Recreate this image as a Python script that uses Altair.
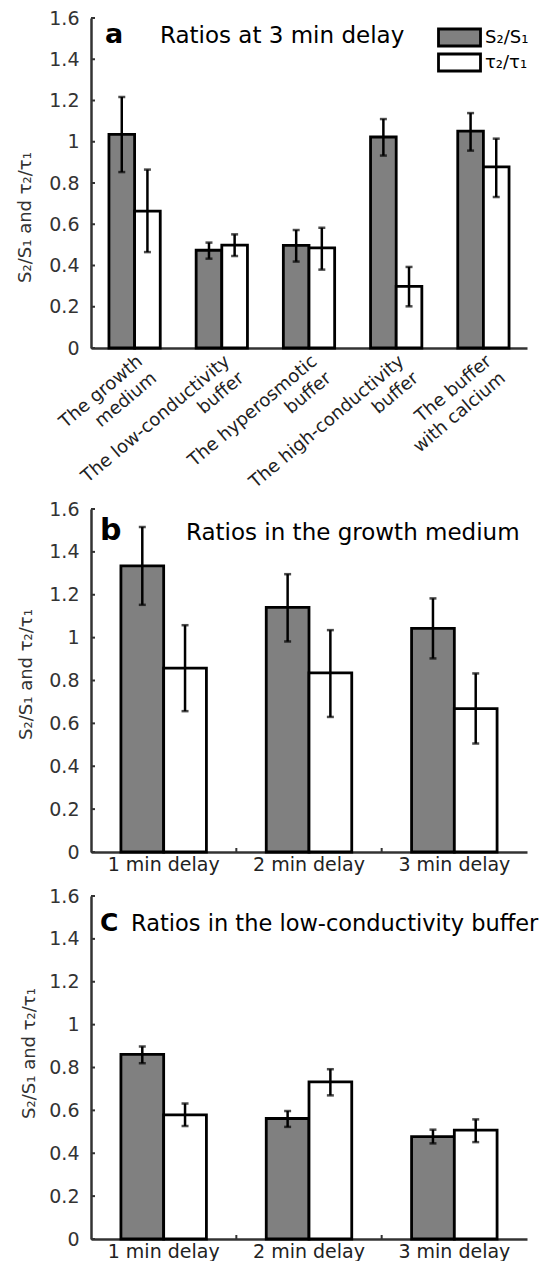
import altair as alt
import pandas as pd

FONT = "DejaVu Sans"
SERIES = ["S₂/S₁", "τ₂/τ₁"]
FILLS = ["#808080", "#ffffff"]
Y_TICKS = [0, 0.2, 0.4, 0.6, 0.8, 1.0, 1.2, 1.4, 1.6]
Y_TITLE = "S₂/S₁ and τ₂/τ₁"

letters = ["a", "b", "C"]
titles = ["Ratios at 3 min delay", "Ratios in the growth medium",
          "Ratios in the low-conductivity buffer"]

# panel a
a_groups = ["The growth|medium", "The low-conductivity|buffer", "The hyperosmotic|buffer",
            "The high-conductivity|buffer", "The buffer|with calcium"]
a_s = [1.036, 0.474, 0.498, 1.023, 1.052]
a_s_lo = [0.853, 0.433, 0.419, 0.933, 0.957]
a_s_hi = [1.217, 0.511, 0.572, 1.110, 1.139]
a_t = [0.664, 0.499, 0.485, 0.299, 0.878]
a_t_lo = [0.465, 0.446, 0.380, 0.202, 0.732]
a_t_hi = [0.865, 0.551, 0.583, 0.393, 1.015]

# panels b and c
delays = ["1 min delay", "2 min delay", "3 min delay"]
b_s = [1.335, 1.141, 1.043]
b_s_lo = [1.153, 0.982, 0.903]
b_s_hi = [1.516, 1.296, 1.183]
b_t = [0.858, 0.836, 0.669]
b_t_lo = [0.657, 0.630, 0.506]
b_t_hi = [1.058, 1.035, 0.833]

c_s = [0.861, 0.562, 0.478]
c_s_lo = [0.820, 0.523, 0.446]
c_s_hi = [0.898, 0.597, 0.510]
c_t = [0.579, 0.733, 0.508]
c_t_lo = [0.527, 0.670, 0.452]
c_t_hi = [0.632, 0.792, 0.558]

AX = "#333333"


def panel(groups, s, s_lo, s_hi, t, t_lo, t_hi, letter, title, *, width, height,
          rotated, legend, title_y, title_x, letter_pos, letter_size, head_pos,
          head_size, group_ticks):
    n = len(groups)
    df = pd.DataFrame({
        "cat": groups * 2,
        "series": [SERIES[0]] * n + [SERIES[1]] * n,
        "val": s + t, "lo": s_lo + t_lo, "hi": s_hi + t_hi})
    xscale = alt.Scale(domain=groups, paddingInner=0, paddingOuter=0)
    if rotated:
        xaxis = alt.Axis(title=None, labelExpr="split(datum.label, '|')", labelAngle=-40,
                         labelAlign="right", labelBaseline="top", labelFontSize=18,
                         labelLineHeight=22, labelPadding=4, labelLimit=400, ticks=False,
                         domainColor=AX, domainWidth=2.5, labelColor="#222222",
                         labelFont=FONT, grid=False)
    else:
        xaxis = alt.Axis(title=None, labelAngle=0, labelFontSize=19, labelPadding=3,
                         ticks=False, domainColor=AX, domainWidth=2.5,
                         labelColor="#222222", labelFont=FONT, grid=False)
    yaxis = alt.Axis(values=Y_TICKS, format="~g", ticks=False, domainColor=AX,
                     domainWidth=2.5, labelFont=FONT, labelFontSize=19,
                     labelColor=AX, labelPadding=12, title=Y_TITLE, titleFont=FONT,
                     titleFontSize=18, titleFontWeight="normal", titleColor=AX,
                     titleX=title_x, titleY=title_y, titleBaseline="alphabetic",
                     grid=False)
    x = alt.X("cat:N", scale=xscale, axis=xaxis)
    x2 = alt.X("cat:N", scale=xscale)
    xo = alt.XOffset("series:N", scale=alt.Scale(domain=SERIES, paddingInner=0,
                                                 paddingOuter=0.7))
    if legend:
        leg = alt.Legend(orient="none", legendX=358.5, legendY=9.5, title=None,
                         symbolType="M-2.47,-1H2.47V1H-2.47Z", symbolSize=289,
                         symbolStrokeColor="black", symbolStrokeWidth=2.8,
                         labelFont=FONT, labelFontSize=18, labelOffset=15.5,
                         rowPadding=-12, padding=0, labelColor="black",
                         symbolOpacity=1)
    else:
        leg = None
    fill = alt.Fill("series:N", scale=alt.Scale(domain=SERIES, range=FILLS), legend=leg)

    base = alt.Chart(df)
    bars = base.mark_bar(stroke="black", strokeWidth=2.8, opacity=1).encode(
        x=x, xOffset=xo,
        y=alt.Y("val:Q", scale=alt.Scale(domain=[0, 1.6], nice=False, zero=True),
                axis=yaxis),
        fill=fill)
    err = base.mark_rule(color="black", strokeWidth=2.5).encode(
        x=x2, xOffset=xo, y="lo:Q", y2="hi:Q")
    cap_lo = base.mark_tick(color="black", size=7, thickness=2.5).encode(
        x=x2, xOffset=xo, y="lo:Q")
    cap_hi = base.mark_tick(color="black", size=7, thickness=2.5).encode(
        x=x2, xOffset=xo, y="hi:Q")
    yt = alt.Chart(pd.DataFrame({"tv": Y_TICKS})).mark_rule(
        color=AX, strokeWidth=2).encode(
        y="tv:Q", x=alt.value(0), x2=alt.value(4))
    layers = [bars, err, cap_lo, cap_hi, yt]
    if group_ticks:
        gt = alt.Chart(pd.DataFrame({"cat": groups[1:]})).mark_rule(
            color=AX, strokeWidth=2).encode(
            x=alt.X("cat:N", scale=xscale, bandPosition=0),
            y=alt.value(height), y2=alt.value(height - 4))
        layers.append(gt)
    let = alt.Chart(pd.DataFrame({"t": [letter]})).mark_text(
        align="left", baseline="alphabetic", font=FONT, fontSize=letter_size,
        fontWeight="bold", color="black").encode(
        x=alt.value(letter_pos[0]), y=alt.value(letter_pos[1]), text="t:N")
    head = alt.Chart(pd.DataFrame({"t": [title]})).mark_text(
        align="left", baseline="alphabetic", font=FONT, fontSize=head_size,
        color="black").encode(
        x=alt.value(head_pos[0]), y=alt.value(head_pos[1]), text="t:N")
    layers += [let, head]
    return alt.layer(*layers).properties(width=width, height=height)


pa = panel(a_groups, a_s, a_s_lo, a_s_hi, a_t, a_t_lo, a_t_hi, letters[0], titles[0],
           width=436, height=330, rotated=True, legend=True, title_y=199, title_x=-61,
           letter_pos=(14, 25), letter_size=27, head_pos=(69, 25), head_size=23,
           group_ticks=False)
pb = panel(delays, b_s, b_s_lo, b_s_hi, b_t, b_t_lo, b_t_hi, letters[1], titles[1],
           width=436, height=343, rotated=False, legend=False, title_y=165, title_x=-60,
           letter_pos=(9, 31), letter_size=30, head_pos=(95, 31), head_size=23,
           group_ticks=True)
pc = panel(delays, c_s, c_s_lo, c_s_hi, c_t, c_t_lo, c_t_hi, letters[2], titles[2],
           width=436, height=343, rotated=False, legend=False, title_y=157, title_x=-57,
           letter_pos=(9, 35), letter_size=25, head_pos=(40, 35), head_size=22.5,
           group_ticks=True)

res = dict(x="independent", y="independent", fill="independent", xOffset="independent")
inner = alt.vconcat(pb, pc, spacing=13).resolve_scale(**res).resolve_legend(fill="independent")
chart = alt.vconcat(pa, inner, spacing=-11).resolve_scale(**res).resolve_legend(
    fill="independent").properties(
    padding={"left": 8, "top": 1, "right": 0, "bottom": 0}).configure_view(stroke=None)

chart.save("out.html", embed_options={"renderer": "svg", "actions": False})
